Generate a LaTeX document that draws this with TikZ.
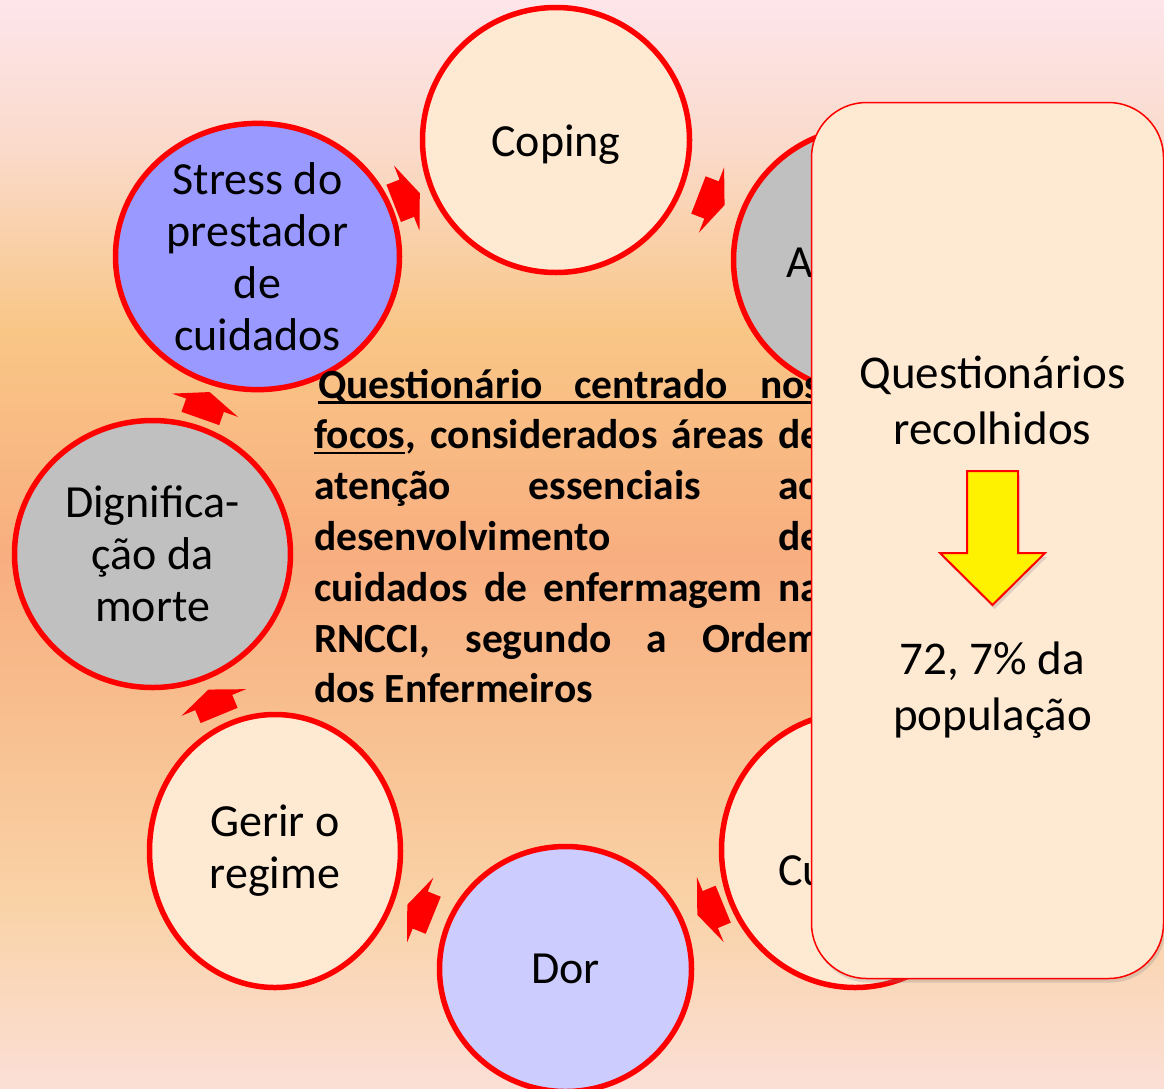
\documentclass[tikz,border=0pt]{standalone}
\usepackage{fontspec}
\setmainfont{Carlito}
\usetikzlibrary{shapes.geometric,shadows}
\definecolor{peach}{HTML}{FEEAD3}
\definecolor{lilac}{HTML}{9999FF}
\definecolor{palelilac}{HTML}{CCCCFF}
\definecolor{silver}{HTML}{C0C0C0}
\definecolor{bgA}{HTML}{FBDFD6}
\definecolor{bgB}{HTML}{F9D2A6}
\definecolor{bgC}{HTML}{F8BD8D}
\definecolor{bgD}{HTML}{F8AE80}
\definecolor{bgE}{HTML}{F9C686}
\definecolor{bgF}{HTML}{FADACA}
\definecolor{bgG}{HTML}{FDE5EB}
\pgfdeclareverticalshading{bgshade}{100bp}{color(0bp)=(bgA); color(25bp)=(bgA);
  color(33.6bp)=(bgB); color(42.8bp)=(bgC); color(49.3bp)=(bgD);
  color(59.8bp)=(bgE); color(68.1bp)=(bgF); color(75bp)=(bgG); color(100bp)=(bgG)}
\def\circfont{\fontsize{46}{52}\selectfont}
\newcommand{\ulword}[1]{\setbox0\hbox{#1}\rlap{\rule[-5.5pt]{\wd0}{2.4pt}}\box0}

\begin{document}
\begin{tikzpicture}[x=1pt,y=1pt,
    bubble/.style={
      ellipse, draw=red, line width=5.5pt, inner sep=0pt, align=center, font=\circfont
    },
    redarrow/.pic={
      \fill[red] (-14,-20) -- (0,-20) -- (0,-35) -- (14,0) -- (0,35) -- (0,20) -- (-14,20) -- cycle;
    },
    boxtext/.style={
      align=center, inner sep=0pt, font=\fontsize{47}{56}\selectfont
    }
  ]
    \useasboundingbox (0,0) rectangle (1164,-1088);
    \shade[shading=bgshade] (0,0) rectangle (1164,-1088);

    \node[bubble, fill=peach, minimum width=267pt, minimum height=265pt] (coping) at (556,-140) {\raisebox{-16.5pt}[0pt][0pt]{Coping}};
    \node[bubble, fill=silver, minimum width=267pt, minimum height=265pt] (acirc) at (867,-260) {};
    \node[bubble, fill=lilac, minimum width=284pt, minimum height=256pt] (stress) at (257.5,-256.5) {Stress do\\prestador\\de\\cuidados};
    \node[bubble, fill=silver, minimum width=276pt, minimum height=267pt] (dign) at (152.5,-554) {Dignifica-\\ção da\\morte};
    \node[bubble, fill=peach, minimum width=251pt, minimum height=273pt] (gerir) at (275,-851) {Gerir o\\regime};
    \node[bubble, fill=palelilac, minimum width=252pt, minimum height=245pt] (dor) at (565.5,-969) {Dor};
    \node[bubble, fill=peach, minimum width=267pt, minimum height=275pt] (cucirc) at (855,-850) {};

    \foreach \from/\to in {stress/coping, coping/acirc, cucirc/dor, dor/gerir, gerir/dign, dign/stress}
      \path (\from.center) -- pic[pos=0.5, sloped, allow upside down]{redarrow} (\to.center);

    \node[anchor=base west, inner sep=0pt, font=\circfont] (alabel) at (786,-277) {A};
    \node[anchor=base west, inner sep=0pt, font=\circfont] (culabel) at (778,-885) {Cu};

    \node[anchor=base west, inner sep=0pt, text width=507pt, align=justify,
      font=\bfseries\fontsize{41.5}{50.8}\selectfont] (focos) at (314,-398)
      {\hspace*{4pt}\ulword{\makebox[503pt][s]{Questionário centrado nos}}\linebreak
       \ulword{focos}, considerados áreas de\linebreak
       atenção essenciais ao\linebreak
       desenvolvimento de\linebreak
       cuidados de enfermagem na\linebreak
       RNCCI, segundo a Ordem\linebreak
       dos Enfermeiros};

    \node[draw=red, line width=1.5pt, fill=peach, rounded corners=55pt,
      minimum width=352pt, minimum height=876pt,
      drop shadow={opacity=0.25, shadow xshift=2pt, shadow yshift=-4pt}] (panel) at (987.5,-540.5) {};

    \node[boxtext] (recolhidos) at (992.5,-400) {Questionários\\recolhidos};
    \node[boxtext] (populacao) at (992.5,-690) {72, 7\% da\\população};

    \coordinate (down) at (992.5,-471);
    \draw[draw=red, line width=2pt, fill=yellow,
      drop shadow={opacity=0.25, shadow xshift=2pt, shadow yshift=-4pt}]
      (down) ++(-25.5,0) -- ++(51,0) -- ++(0,-82) -- ++(27,0) -- (992.5,-605)
      -- (940,-553) -- (967,-553) -- cycle;
  \end{tikzpicture}
\end{document}
